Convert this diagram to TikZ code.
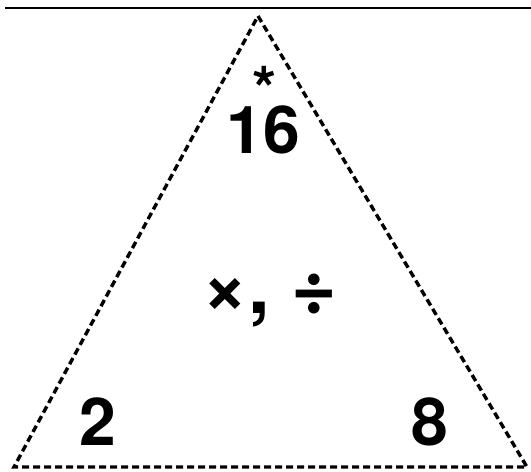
\documentclass[tikz,border=0pt]{standalone}
\usepackage{fontspec}
\setmainfont{TeX Gyre Heros}
\usepackage{tikz}

\tikzset{
	numlabel/.style={inner sep=0pt, anchor=base, font=\fontsize{66}{70}\selectfont\bfseries},
	edge/.style={line width=3.4pt, dash pattern=on 7pt off 4pt}
}

\begin{document}
\begin{tikzpicture}[x=1pt,y=-1pt]
	\useasboundingbox (0,0) rectangle (531,472);
	\coordinate (top) at (258,16);
	\coordinate (left) at (14,467);
	\coordinate (right) at (527,467);
	\draw[line width=2pt] (5,8) -- (531,8);
	\draw[edge] (top) -- (right) -- (left) -- cycle;
	\node[inner sep=0pt, anchor=north, font=\fontsize{62}{66}\selectfont\bfseries] (star) at (265,66) {*};
	\node[numlabel] (product) at (263,153) {16};
	\node[numlabel, font=\fontsize{78}{82}\selectfont\bfseries] (ops) at (270,313) {×, ÷};
	\node[numlabel] (factora) at (98,445) {2};
	\node[numlabel] (factorb) at (430,445) {8};
\end{tikzpicture}
\end{document}
